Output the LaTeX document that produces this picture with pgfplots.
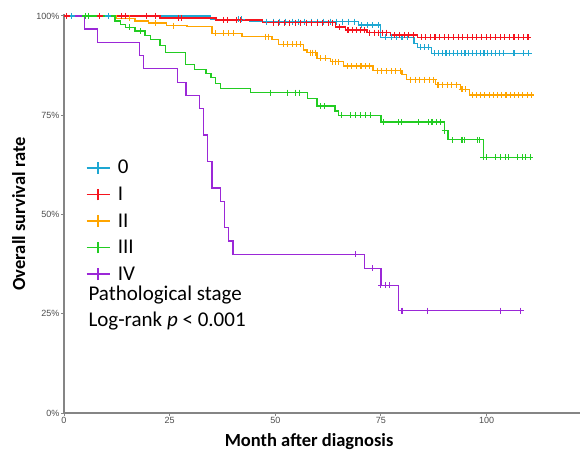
\documentclass[border=0pt]{standalone}
\usepackage{pgfplots}
\pgfplotsset{compat=1.18}
\usepackage{fontspec}
\setmainfont{Carlito}
\newfontfamily\arialfont{Liberation Sans}
\definecolor{cZero}{RGB}{30,167,210}
\definecolor{cOne}{RGB}{245,20,30}
\definecolor{cTwo}{RGB}{255,165,0}
\definecolor{cThree}{RGB}{34,204,34}
\definecolor{cFour}{RGB}{155,40,215}
\definecolor{axisgray}{RGB}{133,133,133}
\definecolor{tickgray}{RGB}{77,77,77}
\pgfplotsset{
  legimg/.style={legend image code/.code={%
    \draw[#1, line width=1.6pt] (0pt,0pt) -- (23pt,0pt);
    \draw[#1, line width=1.6pt] (11.5pt,-5.8pt) -- (11.5pt,5.8pt);
    \path (31pt,0pt);}},
  stepline/.style={const plot, color=#1, line width=1.3pt, forget plot},
  censor/.style={only marks, mark=+, mark size=3pt, color=#1, line width=1.1pt, forget plot},
}
\begin{document}
\begin{tikzpicture}
\begin{axis}[
  scale only axis, width=515.5pt, height=399.4pt,
  at={(64pt,37pt)}, anchor=south west,
  xmin=0, xmax=122, ymin=0, ymax=1.006,
  axis lines=left, axis line style={-, draw=axisgray, line width=1.3pt},
  tick align=outside, major tick length=3pt,
  tick style={draw=axisgray, line width=1pt},
  xtick={0,25,50,75,100}, xticklabels={0,25,50,75,100},
  ytick={0,0.25,0.5,0.75,1}, yticklabels={0\%,25\%,50\%,75\%,100\%},
  ticklabel style={font=\arialfont\fontsize{9}{10}\selectfont, text=tickgray, inner sep=1.5pt},
  clip=false,
  legend style={at={(axis cs:5.1,0.637)}, anchor=north west, draw=none, fill=none,
    font=\fontsize{21}{25}\selectfont, inner sep=0pt, row sep=11.6pt,
    nodes={inner sep=0pt}},
  legend cell align=left,
]
% legend images
\addlegendimage{legimg=cZero}\addlegendentry{0}
\addlegendimage{legimg=cOne}\addlegendentry{I}
\addlegendimage{legimg=cTwo}\addlegendentry{II}
\addlegendimage{legimg=cThree}\addlegendentry{III}
\addlegendimage{legimg=cFour}\addlegendentry{IV}
% step curves
\addplot[stepline=cZero] coordinates {(0,1) (34.6,0.992) (44,0.986) (69.7,0.977) (74.9,0.946) (82.8,0.931) (83.6,0.921) (87.0,0.906) (110.4,0.906)};
\addplot[stepline=cOne] coordinates {(0,1) (22.7,0.995) (36,0.99) (47,0.983) (64.2,0.972) (66.6,0.965) (71.7,0.958) (77.3,0.952) (83.6,0.946) (110.4,0.946)};
\addplot[stepline=cTwo] coordinates {(0,1) (12.5,0.994) (16.8,0.987) (20.0,0.982) (24.3,0.976) (29.1,0.973) (35.0,0.956) (42.1,0.948) (49.2,0.94) (50.8,0.929) (56.7,0.914) (57.5,0.908) (59.9,0.893) (63.0,0.885) (66.2,0.874) (73.1,0.862) (80.0,0.852) (81.0,0.84) (87.9,0.827) (93.8,0.815) (96.0,0.801) (111.2,0.801)};
\addplot[stepline=cThree] coordinates {(0,1) (12.1,0.987) (13.3,0.979) (14.5,0.971) (16.8,0.962) (19.2,0.95) (20.4,0.94) (22.7,0.925) (24.0,0.908) (28.8,0.878) (30.9,0.866) (33.6,0.855) (34.8,0.845) (35.8,0.83) (37.0,0.818) (44.1,0.807) (57.7,0.792) (59.9,0.773) (64.1,0.761) (65.0,0.75) (75.0,0.733) (90.1,0.711) (90.9,0.688) (99.2,0.644) (110.4,0.644)};
\addplot[stepline=cFour] coordinates {(0,1) (4.8,0.967) (7.9,0.933) (17.8,0.90) (18.8,0.867) (26.8,0.833) (28.9,0.80) (32.0,0.767) (33.0,0.70) (34.0,0.633) (35.0,0.567) (37.1,0.533) (38.0,0.467) (38.9,0.433) (40.0,0.40) (71.1,0.364) (75.0,0.322) (79.2,0.258) (108.1,0.258)};
% censor marks
\addplot[censor=cZero] coordinates {(1.8,1) (10.5,1) (41.3,0.992) (42.1,0.992) (48,0.986) (49.5,0.986) (51,0.986) (52.5,0.986) (54,0.986) (55.5,0.986) (57,0.986) (58.5,0.986) (60,0.986) (61.5,0.986) (63,0.986) (64.5,0.986) (66,0.986) (67.4,0.986) (68.8,0.986) (70.5,0.977) (71.8,0.977) (73.1,0.977) (74.4,0.977) (76.1,0.946) (77.4,0.946) (78.7,0.946) (80,0.946) (81.2,0.946) (84.4,0.921) (85.3,0.921) (86.3,0.921) (87.6,0.906) (88.6,0.906) (89.5,0.906) (90.4,0.906) (91.3,0.906) (92.2,0.906) (93.1,0.906) (94,0.906) (94.9,0.906) (95.8,0.906) (96.7,0.906) (97.6,0.906) (98.5,0.906) (99.4,0.906) (100.3,0.906) (101.2,0.906) (102.1,0.906) (103,0.906) (104,0.906) (106.5,0.906) (108.8,0.906) (110,0.906)};
\addplot[censor=cOne] coordinates {(0.6,1) (8.5,1) (13.7,1) (14.5,1) (19.6,1) (21.6,1) (27.1,0.995) (27.9,0.995) (37.7,0.99) (38.6,0.99) (40.9,0.99) (41.7,0.99) (49.5,0.983) (50.8,0.983) (52.1,0.983) (53.4,0.983) (54.7,0.983) (56,0.983) (57.3,0.983) (58.6,0.983) (59.9,0.983) (61.2,0.983) (62.5,0.983) (63.6,0.983) (65.2,0.972) (67.2,0.965) (68.2,0.965) (69.2,0.965) (70.2,0.965) (71.1,0.965) (72.4,0.958) (73.4,0.958) (74.4,0.958) (75.4,0.958) (76.4,0.958) (78.3,0.952) (79.4,0.952) (80.5,0.952) (81.6,0.952) (82.7,0.952) (84.5,0.946) (85.6,0.946) (86.7,0.946) (87.8,0.946) (88.9,0.946) (90,0.946) (91.1,0.946) (92.2,0.946) (93.3,0.946) (94.4,0.946) (95.5,0.946) (96.6,0.946) (97.7,0.946) (98.8,0.946) (99.9,0.946) (101,0.946) (102.1,0.946) (103.2,0.946) (104.3,0.946) (105.4,0.946) (106.5,0.946) (107.6,0.946) (108.7,0.946) (109.8,0.946)};
\addplot[censor=cTwo] coordinates {(15.6,0.994) (21.6,0.982) (25.9,0.976) (35.8,0.956) (37.7,0.956) (38.9,0.956) (40.1,0.956) (47.6,0.948) (48.4,0.948) (52,0.929) (53,0.929) (54,0.929) (55,0.929) (55.9,0.929) (58.3,0.908) (58.9,0.908) (59.5,0.908) (60.7,0.893) (61.8,0.893) (63.6,0.885) (64.3,0.885) (65,0.885) (67,0.874) (68.1,0.874) (69.2,0.874) (70.3,0.874) (71.4,0.874) (72.4,0.874) (74.1,0.862) (75.2,0.862) (76.3,0.862) (77.4,0.862) (78.5,0.862) (79.6,0.862) (82,0.84) (83.1,0.84) (84.2,0.84) (85.3,0.84) (86.4,0.84) (87.5,0.84) (88.5,0.827) (89.6,0.827) (90.7,0.827) (91.8,0.827) (92.9,0.827) (94.2,0.815) (95,0.815) (96.6,0.801) (97.6,0.801) (98.6,0.801) (99.6,0.801) (100.6,0.801) (101.6,0.801) (102.6,0.801) (103.6,0.801) (104.6,0.801) (105.6,0.801) (106.6,0.801) (107.6,0.801) (108.6,0.801) (109.6,0.801) (110.6,0.801)};
\addplot[censor=cThree] coordinates {(5.0,1) (5.8,1) (15.6,0.971) (18.0,0.962) (48.8,0.807) (53.0,0.807) (54.7,0.807) (55.8,0.807) (60.8,0.773) (61.6,0.773) (65.6,0.75) (67.9,0.75) (69.0,0.75) (70.1,0.75) (71.3,0.75) (72.5,0.75) (75.7,0.733) (79.2,0.733) (79.8,0.733) (84.0,0.733) (86.2,0.733) (87.1,0.733) (88.2,0.733) (89.1,0.733) (90.1,0.711) (91.9,0.688) (94.2,0.688) (94.8,0.688) (97.8,0.688) (98.3,0.688) (99.2,0.644) (100.0,0.644) (102.1,0.644) (103.3,0.644) (104.5,0.644) (105.3,0.644) (107.3,0.644) (108.5,0.644) (109.2,0.644) (110.3,0.644)};
\addplot[censor=cFour] coordinates {(69.0,0.40) (73.0,0.364) (75.0,0.322) (76.1,0.322) (77.0,0.322) (80.0,0.258) (86.1,0.258) (103.2,0.258) (108.1,0.258)};
% annotation text
\node[anchor=base west, font=\fontsize{21}{25}\selectfont] at (axis cs:4.97,0.2846) {Pathological stage};
\node[anchor=base west, font=\fontsize{21}{25}\selectfont] at (axis cs:4.97,0.2174) {Log-rank \textit{p} < 0.001};
% axis titles
\node[anchor=base, font=\bfseries\fontsize{18.5}{22}\selectfont] at (axis cs:58.0,-0.0849) {Month after diagnosis};
\node[anchor=base, rotate=90, font=\bfseries\fontsize{18.5}{22}\selectfont] at (axis cs:-9.23,0.5013) {Overall survival rate};
\end{axis}
\pgfresetboundingbox
\path[use as bounding box] (0,0) rectangle (581pt,450pt);
\end{tikzpicture}
\end{document}
